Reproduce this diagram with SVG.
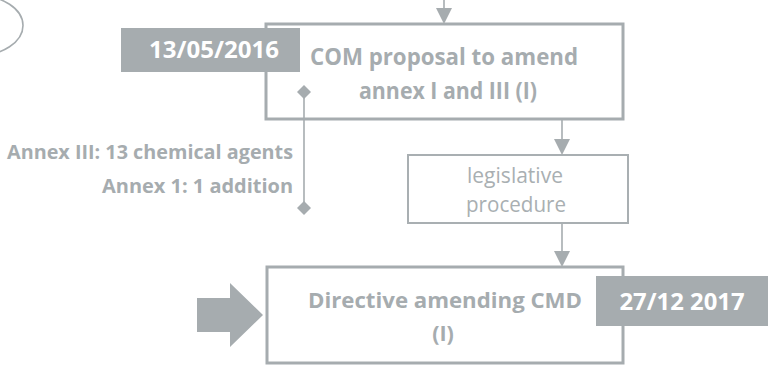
<svg xmlns="http://www.w3.org/2000/svg" width="770" height="366" viewBox="0 0 770 366">
  <defs>
    <style>
      .box { fill: #ffffff; stroke: #a6acaf; stroke-width: 3; }
      .thin { fill: #ffffff; stroke: #a9afb2; stroke-width: 2; }
      .line { fill: none; stroke: #a6acaf; stroke-width: 1.6; }
      .tag { fill: #a6acaf; }
      text { font-variant-ligatures: none; }
      .lbl { font-family: "Open Sans", Lato, sans-serif; font-weight: bold; fill: #a6acaf; }
      .reg { font-family: "Open Sans", Lato, sans-serif; font-weight: normal; fill: #a9afb2; }
      .date { font-family: "Open Sans", Lato, sans-serif; font-weight: bold; fill: #ffffff; }
    </style>
    <path id="dia" d="M0,-7 L7,0 L0,7 L-7,0 Z" fill="#a6acaf"/>
  </defs>

  <!-- partial ellipse at the top-left edge -->
  <ellipse cx="-23" cy="25.5" rx="46" ry="30" fill="none" stroke="#a6acaf" stroke-width="1.6"/>

  <g id="proposal">
    <rect class="box" x="266" y="24" width="357" height="95"/>
    <text class="lbl" x="444" y="65" font-size="22.5" text-anchor="middle" textLength="268" lengthAdjust="spacingAndGlyphs">COM proposal to amend</text>
    <text class="lbl" x="448" y="99" font-size="22.5" text-anchor="middle" textLength="178" lengthAdjust="spacingAndGlyphs">annex I and III (I)</text>
  </g>

  <g id="date-proposal">
    <rect class="tag" x="121" y="28" width="179" height="44"/>
    <text class="date" x="214" y="58" font-size="22.5" text-anchor="middle" textLength="130" lengthAdjust="spacingAndGlyphs">13/05/2016</text>
  </g>

  <g id="annex-notes">
    <text class="lbl" x="293" y="159" font-size="20" text-anchor="end" textLength="286" lengthAdjust="spacingAndGlyphs">Annex III: 13 chemical agents</text>
    <text class="lbl" x="293" y="193" font-size="20" text-anchor="end" textLength="191" lengthAdjust="spacingAndGlyphs">Annex 1: 1 addition</text>
  </g>

  <g id="legislative">
    <rect class="thin" x="408" y="155" width="220" height="68"/>
    <text class="reg" x="515" y="183" font-size="21" text-anchor="middle" textLength="96" lengthAdjust="spacingAndGlyphs">legislative</text>
    <text class="reg" x="516" y="212" font-size="21" text-anchor="middle" textLength="100" lengthAdjust="spacingAndGlyphs">procedure</text>
  </g>

  <g id="directive">
    <rect class="box" x="267" y="267" width="356" height="96"/>
    <text class="lbl" x="445" y="308" font-size="21.5" text-anchor="middle" textLength="274" lengthAdjust="spacingAndGlyphs">Directive amending CMD</text>
    <text class="lbl" x="443" y="341" font-size="21.5" text-anchor="middle">(I)</text>
  </g>

  <g id="date-directive">
    <rect class="tag" x="596" y="276" width="172" height="50"/>
    <text class="date" x="682" y="310" font-size="22.5" text-anchor="middle" textLength="125" lengthAdjust="spacingAndGlyphs">27/12 2017</text>
  </g>

  <g id="connectors">
    <!-- incoming from above -->
    <line class="line" x1="444" y1="0" x2="444" y2="10"/>
    <path d="M436,8 L452,8 L444,24 Z" class="tag"/>
    <!-- proposal to legislative procedure -->
    <line class="line" x1="562" y1="120" x2="562" y2="141"/>
    <path d="M554,139 L570,139 L562,155 Z" class="tag"/>
    <!-- legislative procedure to directive -->
    <line class="line" x1="562" y1="224" x2="562" y2="253"/>
    <path d="M554,251 L570,251 L562,267 Z" class="tag"/>
    <!-- annex bracket with diamond ends -->
    <line class="line" x1="304" y1="93" x2="304" y2="208"/>
    <use href="#dia" x="304" y="92"/>
    <use href="#dia" x="304" y="208"/>
    <!-- block arrow into the directive -->
    <path d="M197,298 L230,298 L230,283 L263,315 L230,347 L230,332 L197,332 Z" class="tag"/>
  </g>
</svg>
